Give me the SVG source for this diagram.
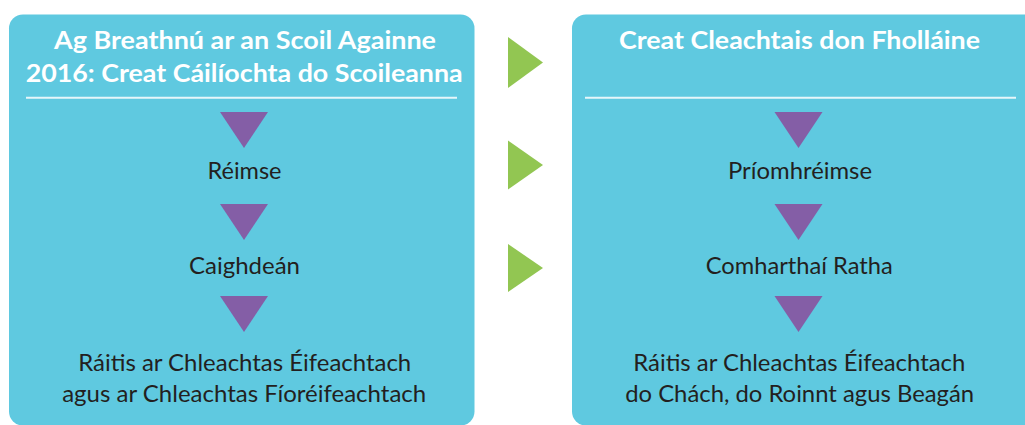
<svg xmlns="http://www.w3.org/2000/svg" width="1025" height="425" viewBox="0 0 1025 425">
<style>
.box{fill:#5FC9E0}
.rule{stroke:#E6F6FA;stroke-width:2}
.title{font-family:Lato,"Liberation Sans",sans-serif;font-weight:bold;font-size:25px;fill:#FFFFFF;text-anchor:middle}
.label{font-family:Lato,"Liberation Sans",sans-serif;font-size:23.5px;fill:#231F20;text-anchor:middle}
.down{fill:#845EA6}
.right{fill:#92C652}
</style>
<rect width="1025" height="425" fill="#FFFFFF"/>
<g id="left-box">
<rect class="box" x="9" y="14.5" width="465.5" height="411" rx="14"/>
<text class="title" x="245" y="48.5" textLength="382" lengthAdjust="spacingAndGlyphs">Ag Breathnú ar an Scoil Againne</text>
<text class="title" x="244.2" y="81.7" textLength="437" lengthAdjust="spacingAndGlyphs">2016: Creat Cáilíochta do Scoileanna</text>
<line class="rule" x1="26" y1="97.7" x2="457" y2="97.7"/>
</g>
<g id="right-box">
<rect class="box" x="572" y="14.5" width="480" height="411" rx="14"/>
<text class="title" x="799.5" y="48.5" textLength="361" lengthAdjust="spacingAndGlyphs">Creat Cleachtais don Fholláine</text>
<line class="rule" x1="585" y1="97.7" x2="1016" y2="97.7"/>
</g>
<g id="node-reimse"><text class="label" x="244.5" y="179" textLength="74" lengthAdjust="spacingAndGlyphs">Réimse</text></g>
<g id="node-caighdean"><text class="label" x="244.5" y="273.7" textLength="111" lengthAdjust="spacingAndGlyphs">Caighdeán</text></g>
<g id="node-raitis-left">
<text class="label" x="244.7" y="370.7" textLength="333" lengthAdjust="spacingAndGlyphs">Ráitis ar Chleachtas Éifeachtach</text>
<text class="label" x="244.2" y="401.7" textLength="364" lengthAdjust="spacingAndGlyphs">agus ar Chleachtas Fíoréifeachtach</text>
</g>
<g id="node-priomhreimse"><text class="label" x="800" y="178.5" textLength="144" lengthAdjust="spacingAndGlyphs">Príomhréimse</text></g>
<g id="node-comharthai"><text class="label" x="799.3" y="273.7" textLength="187" lengthAdjust="spacingAndGlyphs">Comharthaí Ratha</text></g>
<g id="node-raitis-right">
<text class="label" x="799.3" y="370.7" textLength="332" lengthAdjust="spacingAndGlyphs">Ráitis ar Chleachtas Éifeachtach</text>
<text class="label" x="799.7" y="401.7" textLength="349" lengthAdjust="spacingAndGlyphs">do Chách, do Roinnt agus Beagán</text>
</g>
<g id="connectors">
<polygon class="down" points="220,112 268,112 244,148"/>
<polygon class="down" points="220,204 268,204 244,240"/>
<polygon class="down" points="220,296 268,296 244,332"/>
<polygon class="down" points="774.5,112 822.5,112 798.5,148"/>
<polygon class="down" points="774.5,204 822.5,204 798.5,240"/>
<polygon class="down" points="774.5,296 822.5,296 798.5,332"/>
<polygon class="right" points="508,37 543,62.5 508,88"/>
<polygon class="right" points="508,140.5 543,165 508,189.5"/>
<polygon class="right" points="508,244 543,268 508,292"/>
</g>
</svg>
